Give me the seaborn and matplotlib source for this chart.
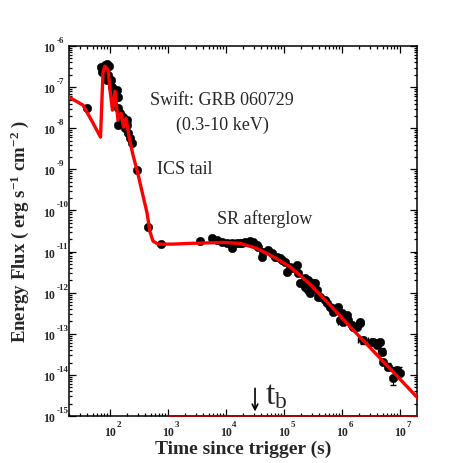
import numpy as np
import matplotlib
matplotlib.use("Agg")
import matplotlib.pyplot as plt
import matplotlib.ticker as mticker
from matplotlib.transforms import blended_transform_factory, offset_copy
import seaborn as sns

# ----- DATA ----------------------------------------|
# Swift XRT points (time since trigger in s, energy flux in erg/s/cm2)
t_obs = [39.6, 68.5, 72, 76.6, 82, 89.8, 97.3, 87.7, 93.5, 103, 107, 114, 122, 130,
         139, 139, 139, 149, 159, 170, 181, 194, 194, 207, 221, 237, 288, 457, 757,
         3560, 5660, 6920, 8430, 1.03e4, 1.25e4, 1.25e4, 1.74e4, 2.13e4, 2.59e4,
         2.93e4, 3.38e4, 4.13e4, 4.4e4, 5.36e4, 6.13e4, 7.0e4, 8.53e4, 1.04e5,
         1.11e5, 1.27e5, 1.66e5, 1.89e5, 2.3e5, 2.63e5, 2.63e5, 3.2e5, 2.8e5,
         3.66e5, 4.18e5, 5.09e5, 6.21e5, 7.08e5, 8.63e5, 9.88e5, 1.05e6, 1.2e6,
         1.47e6, 1.79e6, 2.04e6, 2.33e6, 3.25e6, 3.97e6, 4.52e6, 4.83e6, 5.15e6,
         6.29e6, 7.66e6, 8.77e6, 1.0e7,
         1.53e4, 1.86e4, 3.56e4, 7.48e4, 9.12e4, 1.36e5, 1.74e5, 2.3e5, 3.42e5,
         3.85e5, 5.45e5, 6.64e5, 8.1e5, 9.25e5, 1.27e6, 1.55e6, 2.04e6, 3.42e6,
         4.17e6]
f_obs = [3.15e-8, 3.08e-7, 2.33e-7, 3.13e-7, 3.55e-7, 3.65e-7, 3.26e-7, 1.49e-7,
         1.97e-7, 1.49e-7, 1.02e-7, 7.07e-8, 5.33e-8, 8.5e-8, 5.83e-8, 3.05e-8,
         1.2e-8, 2.31e-8, 1.44e-8, 1.9e-8, 9.95e-9, 1.58e-8, 1.2e-8, 7.5e-9, 5.7e-9,
         4.3e-9, 9.6e-10, 4.0e-11, 1.52e-11, 1.85e-11, 2.1e-11, 1.9e-11, 1.73e-11,
         1.58e-11, 1.2e-11, 1.58e-11, 1.58e-11, 1.73e-11, 1.8e-11, 1.68e-11,
         1.44e-11, 7.46e-12, 9.9e-12, 1.09e-11, 9.0e-12, 7.46e-12, 6.84e-12,
         5.65e-12, 3.23e-12, 4.27e-12, 4.7e-12, 1.68e-12, 2.23e-12, 1.16e-12,
         2.03e-12, 1.68e-12, 9.6e-13, 1.16e-12, 7.9e-13, 6.6e-13, 4.54e-13,
         3.43e-13, 4.54e-13, 3.13e-13, 1.96e-13, 2.85e-13, 1.63e-13, 1.48e-13,
         1.79e-13, 7.0e-14, 6.38e-14, 5.31e-14, 6.38e-14, 3.65e-14, 2.08e-14,
         1.57e-14, 8.2e-15, 1.31e-14, 1.09e-14,
         1.58e-11, 1.64e-11, 1.31e-11, 7.46e-12, 6.2e-12, 3.9e-12, 3.0e-12,
         1.39e-12, 1.68e-12, 7.94e-13, 5.58e-13, 4.22e-13, 3.78e-13, 2.15e-13,
         2.15e-13, 1.48e-13, 1.96e-13, 6.38e-14, 5.94e-14]

# late points that carry error bars
t_err = [1.05e6, 2.33e6, 4.83e6, 6.29e6, 7.66e6, 9.5e6]
f_err = [1.96e-13, 7.0e-14, 3.65e-14, 1.57e-14, 8.2e-15, 1.2e-14]
t_err_lo = [8.5e5, 1.9e6, 4.2e6, 5.6e6, 7.2e6, 9.0e6]
t_err_hi = [1.3e6, 2.8e6, 5.5e6, 7.0e6, 8.2e6, 1.0e7]
f_err_lo = [1.7e-13, 5.8e-14, 3.0e-14, 1.3e-14, 5.6e-15, 1.0e-14]
f_err_hi = [2.25e-13, 8.5e-14, 4.4e-14, 1.9e-14, 1.6e-14, 1.6e-14]

# ICS + SR model curve
t_model = [19.6, 34.2, 50.9, 68.5, 75.7, 82.0, 92.5, 100, 110, 122, 137, 155, 171,
           189, 213, 249, 292, 435, 490, 551, 673, 1220, 2390, 8870, 1.74e4,
           3.38e4, 6.55e4, 1.27e5, 2.15e5, 2.8e5, 6.21e5, 1.37e6, 3.04e6, 6.73e6,
           1.96e7]
f_model = [5.74e-8, 3.66e-8, 1.34e-8, 6.1e-9, 2.33e-7, 3.26e-7, 2.61e-7, 8.5e-8,
           2.77e-8, 8.0e-8, 1.58e-8, 2.34e-8, 1.07e-8, 1.77e-8, 6.1e-9, 2.23e-9,
           9.6e-10, 8.65e-11, 2.98e-11, 1.8e-11, 1.52e-11, 1.52e-11, 1.585e-11,
           1.67e-11, 1.585e-11, 1.2e-11, 7.46e-12, 4.27e-12, 2.23e-12, 1.62e-12,
           4.99e-13, 1.5e-13, 4.61e-14, 1.42e-14, 2.88e-15]

# flat component sitting on the lower frame
t_floor = [1.0e3, 1.96e7]
f_floor = [1e-15, 1e-15]

t_b = 3.16e4

x_decades = [2, 3, 4, 5, 6, 7]
y_decades = [-15, -14, -13, -12, -11, -10, -9, -8, -7, -6]

# ----- FIGURE ---------------|
sns.set_style("ticks")
plt.rcParams['font.family'] = ['Liberation Serif', 'DejaVu Serif']
plt.rcParams['mathtext.fontset'] = 'custom'
plt.rcParams['mathtext.rm'] = 'Liberation Serif'
plt.rcParams['mathtext.it'] = 'Liberation Serif:italic'
plt.rcParams['mathtext.bf'] = 'Liberation Serif:bold'

fig = plt.figure(figsize=(4.63, 4.63), dpi=100)
ax = fig.add_axes([0.149, 0.1015, 0.7516, 0.799])

sns.scatterplot(x=t_obs, y=f_obs, ax=ax, color='black', s=38, edgecolor='black',
                linewidth=0.3, zorder=3)
ax.errorbar(t_err, f_err,
            xerr=[np.array(t_err) - np.array(t_err_lo), np.array(t_err_hi) - np.array(t_err)],
            yerr=[np.array(f_err) - np.array(f_err_lo), np.array(f_err_hi) - np.array(f_err)],
            fmt='none', ecolor='black', elinewidth=0.8, capsize=2, zorder=3)
sns.lineplot(x=t_model, y=f_model, ax=ax, color='red', linewidth=2.4, sort=False,
             estimator=None, zorder=4)
ax.plot(t_floor, f_floor, color='#b00000', lw=1.3, clip_on=False, zorder=5)

ax.set_xscale('log')
ax.set_yscale('log')
ax.set_xlim(19.6, 1.96e7)
ax.set_ylim(1e-15, 1e-6)

for axis in (ax.xaxis, ax.yaxis):
    axis.set_major_locator(mticker.LogLocator(base=10, numticks=20))
    axis.set_minor_locator(mticker.LogLocator(base=10, subs=np.arange(2, 10), numticks=20))
    axis.set_major_formatter(mticker.NullFormatter())
    axis.set_minor_formatter(mticker.NullFormatter())

ax.tick_params(which='both', direction='in', top=True, right=True,
               width=0.9, color='black')
ax.tick_params(which='major', length=5)
ax.tick_params(which='minor', length=2.5)
for sp in ax.spines.values():
    sp.set_linewidth(1.1)
    sp.set_color('black')

# old-style "10" + raised exponent tick labels
tx = blended_transform_factory(ax.transData, ax.transAxes)
tx_exp = offset_copy(tx, fig=fig, x=4.5, y=5.5, units='points')
for k in x_decades:
    ax.text(10.0 ** k, -0.046, '10', transform=tx, ha='center', va='center',
            fontsize=8.5, fontweight='bold')
    ax.text(10.0 ** k, -0.046, str(k), transform=tx_exp, ha='left', va='center',
            fontsize=6.5, fontweight='bold')

ty = blended_transform_factory(ax.transAxes, ax.transData)
ty_ten = offset_copy(ty, fig=fig, x=0, y=-2.2, units='points')
ty_exp = offset_copy(ty, fig=fig, x=1.5, y=3.6, units='points')
for k in y_decades:
    ax.text(-0.040, 10.0 ** k, '10', transform=ty_ten, ha='right', va='center',
            fontsize=8.5, fontweight='bold', clip_on=False)
    ax.text(-0.040, 10.0 ** k, '%d' % k, transform=ty_exp, ha='left', va='center',
            fontsize=6.5, fontweight='bold', clip_on=False)

ax.set_xlabel('Time since trigger (s)', fontsize=14, fontweight='bold')
ax.set_ylabel(r'Energy Flux ( erg s$^{\mathbf{-1}}$ cm$^{\mathbf{-2}}$ )',
              fontsize=13.5, fontweight='bold')
ax.xaxis.set_label_coords(0.5, -0.068)
ax.yaxis.set_label_coords(-0.108, 0.5)

ax.text(0.44, 0.854, 'Swift: GRB 060729', transform=ax.transAxes, fontsize=13,
        ha='center', va='center')
ax.text(0.44, 0.786, '(0.3-10 keV)', transform=ax.transAxes, fontsize=13,
        ha='center', va='center')
ax.text(0.333, 0.665, 'ICS tail', transform=ax.transAxes, fontsize=13,
        ha='center', va='center')
ax.text(0.563, 0.532, 'SR afterglow', transform=ax.transAxes, fontsize=13,
        ha='center', va='center')

ax.annotate('', xy=(t_b, 1.1e-15), xytext=(t_b, 5.5e-15),
            arrowprops=dict(arrowstyle='->', color='black', lw=1.2))
ax.text(0.564, 0.055, r'$\mathrm{t_b}$', transform=ax.transAxes, fontsize=24,
        ha='left', va='center')

fig.savefig('out.png', dpi=100)
